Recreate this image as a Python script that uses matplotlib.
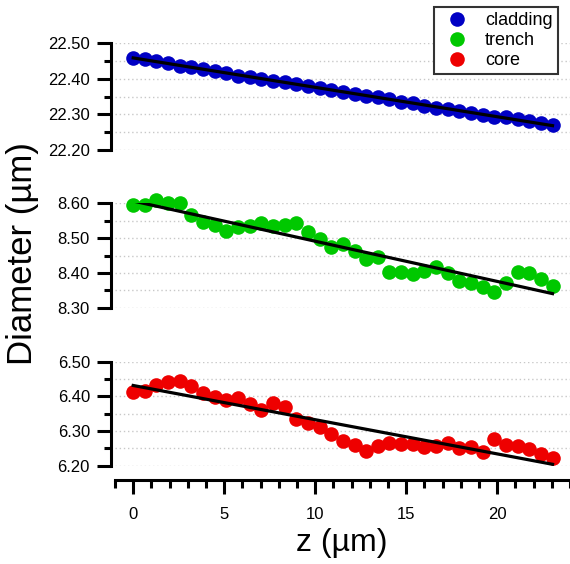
import numpy as np
import matplotlib.pyplot as plt
from matplotlib.ticker import MultipleLocator
from matplotlib.lines import Line2D

plt.rcParams["font.family"] = ["Liberation Sans", "DejaVu Sans"]

# axial position of each slice (um)
z = np.arange(37) * 0.64

cladding = [
    22.458, 22.456, 22.450, 22.444, 22.437, 22.434, 22.427, 22.423, 22.416,
    22.409, 22.406, 22.400, 22.395, 22.391, 22.386, 22.381, 22.373, 22.369,
    22.364, 22.357, 22.352, 22.348, 22.343, 22.336, 22.331, 22.324, 22.319,
    22.314, 22.310, 22.303, 22.298, 22.294, 22.292, 22.287, 22.282, 22.277,
    22.270,
]
trench = [
    8.595, 8.595, 8.609, 8.600, 8.600, 8.566, 8.547, 8.538, 8.520,
    8.533, 8.535, 8.544, 8.535, 8.538, 8.543, 8.518, 8.497, 8.475,
    8.483, 8.463, 8.439, 8.445, 8.404, 8.402, 8.396, 8.406, 8.418,
    8.401, 8.378, 8.372, 8.360, 8.346, 8.372, 8.402, 8.399, 8.382,
    8.363,
]
core = [
    6.413, 6.416, 6.433, 6.442, 6.444, 6.430, 6.411, 6.397, 6.389,
    6.394, 6.377, 6.361, 6.380, 6.368, 6.334, 6.324, 6.313, 6.291,
    6.272, 6.260, 6.243, 6.257, 6.266, 6.264, 6.263, 6.253, 6.257,
    6.266, 6.250, 6.253, 6.240, 6.276, 6.260, 6.257, 6.247, 6.234,
    6.221,
]

names = ["cladding", "trench", "core"]
series = [cladding, trench, core]
colors = ["#0000c4", "#00c800", "#ee0000"]
ylims = [(22.20, 22.50), (8.30, 8.60), (6.20, 6.50)]

W, H = 570, 564
fig = plt.figure(figsize=(W / 100, H / 100), dpi=100)

# panel extents in pixels: (top, bottom)
panels = [(43.3, 150.0), (203.3, 307.7), (361.7, 465.7)]
left_px, right_px = 115, 570

axes = []
for (top, bot) in panels:
    ax = fig.add_axes([left_px / W, 1 - bot / H, (right_px - left_px) / W, (bot - top) / H])
    axes.append(ax)

for i, (ax, name, vals, col, yl) in enumerate(zip(axes, names, series, colors, ylims)):
    vals = np.asarray(vals)
    ax.plot(z, vals, "o", color=col, ms=10.5, mec="none", zorder=3, clip_on=False)
    k, b = np.polyfit(z, vals, 1)
    ax.plot([z[0], z[-1]], [b, k * z[-1] + b], color="black", lw=2.3, zorder=4)

    ax.set_xlim(-1.0, 24.0)
    ax.set_ylim(*yl)
    ax.yaxis.set_major_locator(MultipleLocator(0.1))
    ax.yaxis.set_minor_locator(MultipleLocator(0.05))
    ax.yaxis.set_major_formatter(plt.FormatStrFormatter("%.2f"))
    ax.grid(axis="y", which="both", color="#c8c8c8", ls=(0, (1, 2)), lw=1.0)
    ax.set_axisbelow(True)

    for s in ["top", "right"]:
        ax.spines[s].set_visible(False)
    ax.spines["left"].set_position(("outward", 3))
    ax.spines["left"].set_linewidth(2.2)
    ax.tick_params(axis="y", which="major", length=10, width=2.2, labelsize=12, pad=5)
    ax.tick_params(axis="y", which="minor", length=5, width=2.2)
    ax.set_facecolor("none")

    if i < 2:
        ax.spines["bottom"].set_visible(False)
        ax.tick_params(axis="x", which="both", bottom=False, labelbottom=False)
    else:
        ax.spines["bottom"].set_position(("outward", 10))
        ax.spines["bottom"].set_linewidth(2.2)
        ax.xaxis.set_major_locator(MultipleLocator(5))
        ax.xaxis.set_minor_locator(MultipleLocator(1))
        ax.tick_params(axis="x", which="major", length=10, width=2.2, labelsize=12, pad=10)
        ax.tick_params(axis="x", which="minor", length=6, width=2.2)

fig.text(23 / W, 1 - 254 / H, "Diameter (\u00b5m)", rotation=90, fontsize=25,
         ha="center", va="center")
fig.text(342 / W, 1 - 543 / H, "z (\u00b5m)", fontsize=23, ha="center", va="center")

handles = [Line2D([], [], marker="o", ls="none", color=c, mec="none", ms=10.5) for c in colors]
leg = fig.legend(handles, names, loc="upper right", bbox_to_anchor=(558 / W, 1 - 7 / H),
                 fontsize=13, frameon=True, fancybox=False, edgecolor="#333333",
                 framealpha=1, borderpad=0.3, labelspacing=0.15, handletextpad=0.6,
                 handlelength=1.9, borderaxespad=0)
leg.get_frame().set_linewidth(1.5)

fig.savefig("out.png", dpi=100)
